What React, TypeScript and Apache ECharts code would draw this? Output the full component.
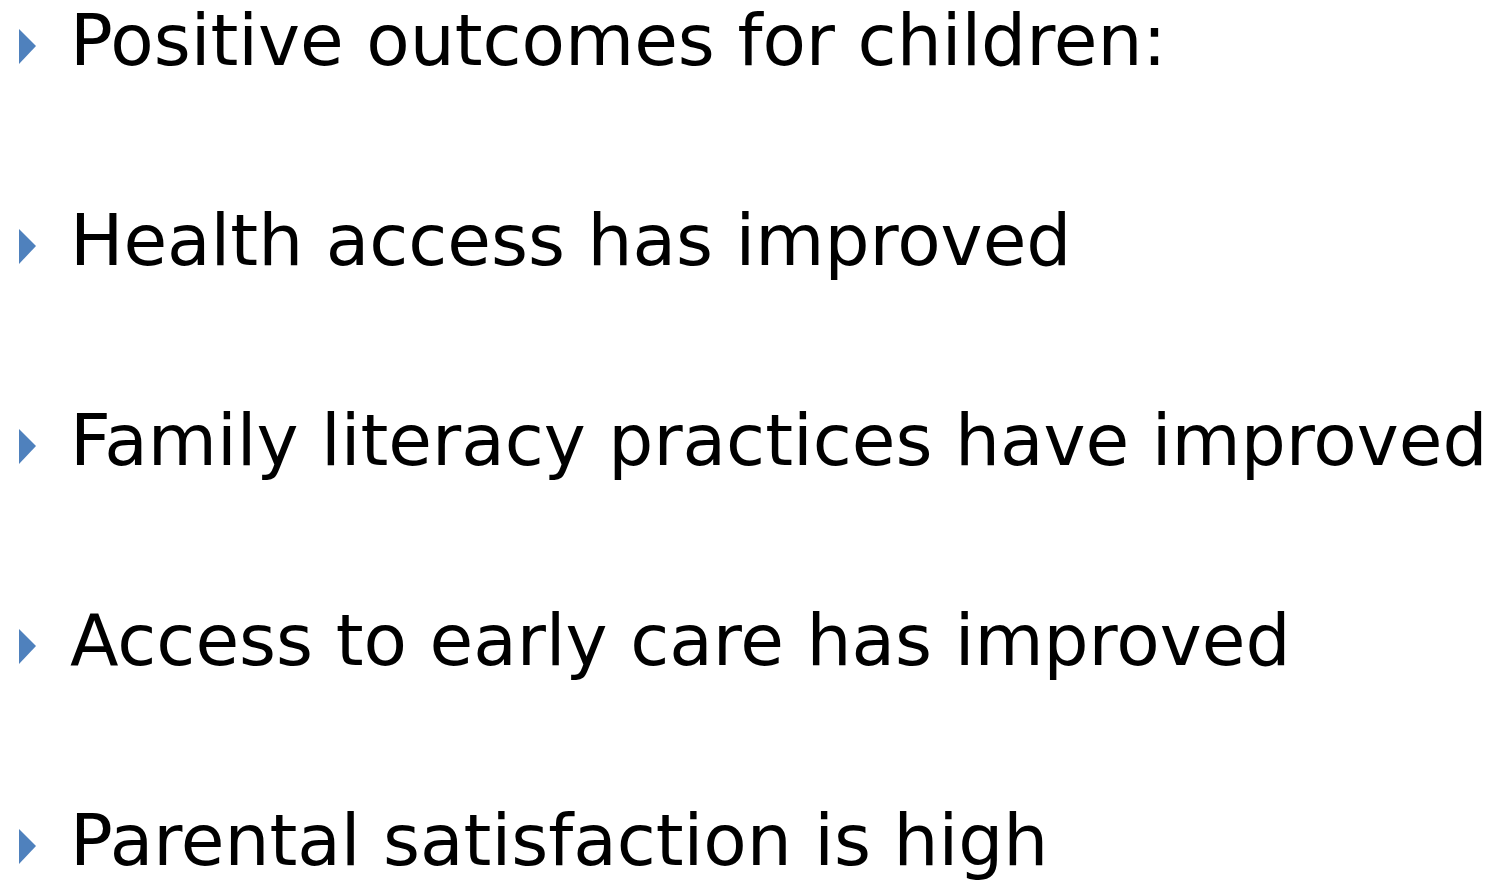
import React, { useEffect, useRef } from "react";
import * as echarts from "echarts";

const bulletTexts = [
  "Positive outcomes for children:",
  "Health access has improved",
  "Family literacy practices have improved",
  "Access to early care has improved",
  "Parental satisfaction is high",
];

export default function App() {
  const ref = useRef<HTMLDivElement>(null);
  useEffect(() => {
    const chart = echarts.init(ref.current!, null, { renderer: "svg" });
    const elements: any[] = [];
    bulletTexts.forEach((t, i) => {
      const base = 65 + i * 200;
      elements.push({
        type: "polygon",
        shape: { points: [[19, base - 36], [36, base - 19], [19, base - 1]] },
        style: { fill: "#4F81BD" },
      });
      elements.push({
        type: "text",
        x: 70,
        y: base - 60,
        style: {
          text: t,
          font: "71px 'DejaVu Sans'",
          fill: "#000000",
          verticalAlign: "top",
        },
      });
    });
    chart.setOption({ animation: false, graphic: { elements } });
    return () => chart.dispose();
  }, []);
  return <div ref={ref} style={{ width: 1494, height: 881, position: "absolute", left: 0, top: 0 }} />;
}
